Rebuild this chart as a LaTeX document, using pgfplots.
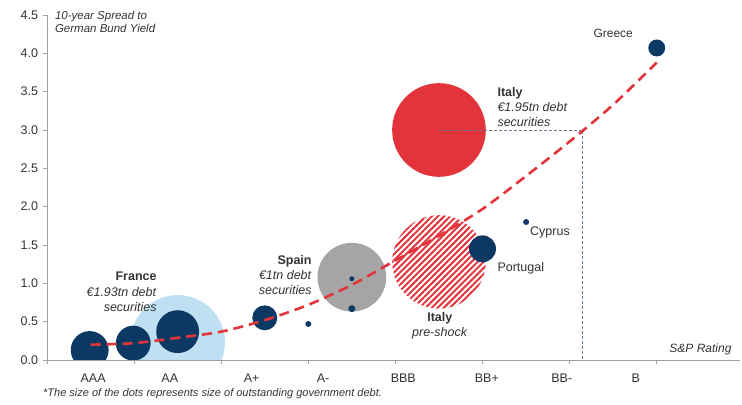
\documentclass[border=0pt]{standalone}
\usepackage{fontspec}
\setmainfont{Liberation Sans}
\usepackage{pgfplots}
\pgfplotsset{compat=1.18}
\usetikzlibrary{patterns.meta}

\definecolor{navy}{RGB}{12,56,100}
\definecolor{itred}{RGB}{226,52,58}
\definecolor{lblue}{RGB}{190,224,242}
\definecolor{sgray}{RGB}{165,165,165}
\definecolor{guide}{RGB}{100,122,145}
\definecolor{axisgray}{RGB}{160,160,160}
\definecolor{txt}{RGB}{51,51,51}

\begin{document}
\begin{tikzpicture}
\useasboundingbox (0,0) rectangle (742bp,405bp);
\begin{axis}[
    at={(47bp,45bp)}, anchor=south west,
    width=693bp, height=345bp, scale only axis,
    xmin=0, xmax=7.956, ymin=0, ymax=4.5,
    axis lines*=left,
    axis line style={axisgray, line width=0.8bp},
    clip mode=individual,
    clip marker paths=true,
    tick align=outside,
    major tick length=4bp,
    tick style={axisgray, line width=0.8bp},
    ytick={0,0.5,1,1.5,2,2.5,3,3.5,4,4.5},
    yticklabel style={xshift=-1.5bp, /pgf/number format/.cd, fixed, fixed zerofill, precision=1, assume math mode=true},
    xtick={0,1,2,3,4,5,6,7},
    xticklabels={},
    extra x ticks={0.53,1.41,2.35,3.17,4.09,5.05,5.91,6.76},
    extra x tick labels={AAA,AA,A+,A-,BBB,BB+,BB-,B},
    extra x tick style={major tick length=0pt, xticklabel style={yshift=-10bp}},
    ticklabel style={font=\fontsize{12.5bp}{14bp}\selectfont, text=txt},
]

% bubbles: x, spread, radius (px)
\addplot[only marks, mark=*, mark size=47.5, mark options={draw opacity=0, fill=lblue}]
  coordinates {(1.50,0.23)};
\addplot[only marks, mark=*, mark size=34.5, mark options={draw opacity=0, fill=sgray}]
  coordinates {(3.50,1.08)};
\addplot[only marks, mark=*, mark size=47, mark options={draw=white, line width=0.1bp,
    pattern={Lines[angle=45, distance=4.3bp, line width=2bp]}, pattern color=itred}]
  coordinates {(4.50,1.28)};
\addplot[only marks, mark=*, mark size=47, mark options={draw opacity=0, fill=itred}]
  coordinates {(4.50,3.00)};

\addplot[scatter, only marks, mark=*,
    scatter/use mapped color={draw opacity=0, fill=navy},
    visualization depends on={\thisrow{r} \as \rad},
    scatter/@pre marker code/.append style={/tikz/mark size=\rad}]
  table[x=x, y=y] {
x    y    r
0.49 0.13 19
0.99 0.22 17.5
1.50 0.37 21.5
2.50 0.55 12.5
3.00 0.47 3
3.50 1.06 2.5
3.50 0.67 3.5
5.00 1.45 13.5
5.50 1.80 3
7.00 4.07 8.5
};

% guide from Italy
\addplot[guide, line width=0.8bp, dash pattern=on 3bp off 2bp]
  coordinates {(4.50,3.00) (6.15,3.00) (6.15,0)};

% fitted curve
\addplot[itred, line width=2.6bp, dash pattern=on 10bp off 6bp, smooth]
  coordinates {
(0.5,0.20) (1.0,0.22) (1.5,0.29) (2.0,0.37) (2.5,0.52) (3.0,0.72) (3.5,0.98)
(4.0,1.30) (4.5,1.62) (5.0,1.97) (5.5,2.40) (6.0,2.85) (6.5,3.33) (7.0,3.88)
};

\node[anchor=north west, align=left, inner sep=0, text=txt,
  font=\itshape\fontsize{11.5bp}{13bp}\selectfont] at (axis cs:0.09,4.556)
  {10-year Spread to\\German Bund Yield};
\node[anchor=east, inner sep=0, text=txt, font=\itshape\fontsize{12bp}{14bp}\selectfont]
  at (axis cs:7.86,0.14) {S\&P Rating};
\node[inner sep=0, text=txt, font=\fontsize{12bp}{14bp}\selectfont]
  at (axis cs:6.50,4.26) {Greece};
\node[anchor=north west, align=left, inner sep=0, text=txt, font=\fontsize{12.5bp}{15bp}\selectfont]
  at (axis cs:5.17,3.56) {\textbf{Italy}\\\textit{€1.95tn debt}\\\textit{securities}};
\node[anchor=north east, align=right, inner sep=0, text=txt, font=\fontsize{12.5bp}{15.5bp}\selectfont]
  at (axis cs:1.26,1.15) {\textbf{France}\\\textit{€1.93tn debt}\\\textit{securities}};
\node[anchor=north east, align=right, inner sep=0, text=txt, font=\fontsize{12.5bp}{15bp}\selectfont]
  at (axis cs:3.04,1.37) {\textbf{Spain}\\\textit{€1tn debt}\\\textit{securities}};
\node[anchor=north, align=center, inner sep=0, text=txt, font=\fontsize{12.5bp}{15bp}\selectfont]
  at (axis cs:4.51,0.62) {\textbf{Italy}\\\textit{pre-shock}};
\node[anchor=west, inner sep=0, text=txt, font=\fontsize{12.5bp}{14bp}\selectfont]
  at (axis cs:5.545,1.67) {Cyprus};
\node[anchor=west, inner sep=0, text=txt, font=\fontsize{12.5bp}{14bp}\selectfont]
  at (axis cs:5.17,1.20) {Portugal};
\node[anchor=west, inner sep=0, text=txt, font=\itshape\fontsize{11bp}{13bp}\selectfont]
  at (axis cs:-0.046,-0.44) {*The size of the dots represents size of outstanding government debt.};
\end{axis}
\end{tikzpicture}
\end{document}
